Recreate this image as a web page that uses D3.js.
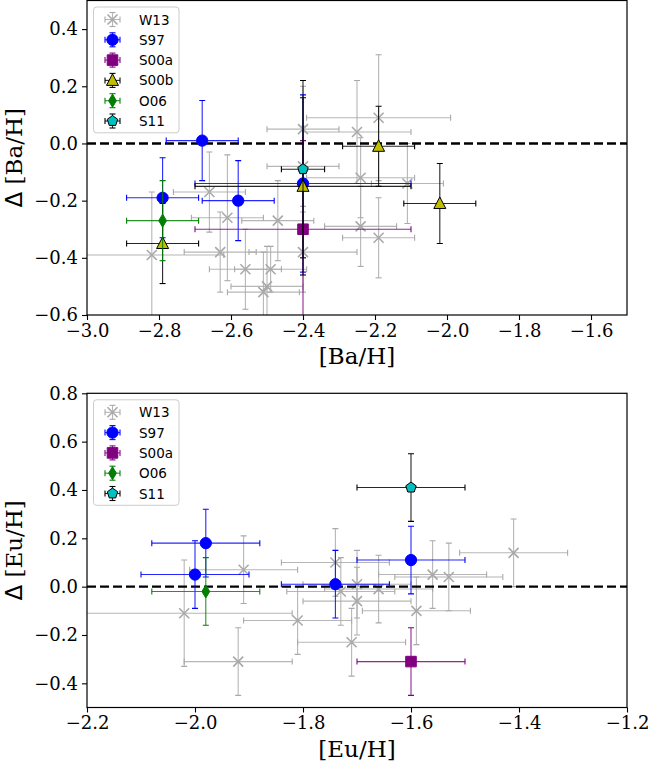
<!DOCTYPE html>
<html>
<head>
<meta charset="utf-8">
<script src="https://cdn.jsdelivr.net/npm/d3@7"></script>
<style>
  body { margin: 0; background: #fff; }
</style>
</head>
<body>
<svg id="chart" width="649" height="764"></svg>
<script>
// each point: [x, y, xerr, yerr]
const baW13 = [
  [-2.82, -0.39, 0.20, 0.22], [-2.66, -0.17, 0.10, 0.14], [-2.61, -0.26, 0.10, 0.22],
  [-2.63, -0.38, 0.10, 0.14], [-2.56, -0.44, 0.10, 0.14], [-2.49, -0.44, 0.10, 0.08],
  [-2.50, -0.50, 0.10, 0.14], [-2.51, -0.52, 0.10, 0.14], [-2.47, -0.27, 0.10, 0.14],
  [-2.40, 0.05, 0.10, 0.15], [-2.40, -0.08, 0.10, 0.14], [-2.40, -0.38, 0.15, 0.14],
  [-2.25, 0.04, 0.15, 0.18], [-2.19, 0.09, 0.20, 0.22], [-2.24, -0.12, 0.15, 0.14],
  [-2.24, -0.29, 0.10, 0.14], [-2.19, -0.33, 0.10, 0.14], [-2.11, -0.14, 0.10, 0.14]
];
const baS97 = [[-2.79, -0.19, 0.10, 0.14], [-2.68, 0.01, 0.10, 0.14], [-2.58, -0.20, 0.10, 0.14], [-2.40, -0.14, 0.30, 0.31]];
const baS00a = [[-2.40, -0.30, 0.30, 0.31]];
const baS00b = [[-2.79, -0.35, 0.10, 0.14], [-2.40, -0.15, 0.30, 0.31], [-2.19, -0.01, 0.10, 0.14], [-2.02, -0.21, 0.10, 0.14]];
const baO06 = [[-2.79, -0.27, 0.10, 0.14]];
const baS11 = [[-2.40, -0.09, 0.06, 0.31]];

const euW13 = [
  [-2.02, -0.11, 0.20, 0.22], [-1.91, 0.07, 0.10, 0.14], [-1.92, -0.31, 0.10, 0.14],
  [-1.81, -0.14, 0.10, 0.14], [-1.74, 0.10, 0.10, 0.14], [-1.73, -0.02, 0.10, 0.14],
  [-1.70, 0.01, 0.10, 0.14], [-1.70, -0.06, 0.10, 0.14], [-1.71, -0.23, 0.10, 0.14],
  [-1.66, -0.01, 0.10, 0.14], [-1.59, -0.10, 0.10, 0.14], [-1.56, 0.05, 0.10, 0.14],
  [-1.53, 0.04, 0.10, 0.14], [-1.41, 0.14, 0.10, 0.14]
];
const euS97 = [[-1.98, 0.18, 0.10, 0.14], [-2.00, 0.05, 0.10, 0.14], [-1.74, 0.01, 0.10, 0.14], [-1.60, 0.11, 0.10, 0.14]];
const euS00a = [[-1.60, -0.31, 0.10, 0.14]];
const euO06 = [[-1.98, -0.02, 0.10, 0.14]];
const euS11 = [[-1.60, 0.41, 0.10, 0.14]];

const baXTicks = [-3.0, -2.8, -2.6, -2.4, -2.2, -2.0, -1.8, -1.6];
const baYTicks = [-0.6, -0.4, -0.2, 0.0, 0.2, 0.4];
const euXTicks = [-2.2, -2.0, -1.8, -1.6, -1.4, -1.2];
const euYTicks = [-0.4, -0.2, 0.0, 0.2, 0.4, 0.6, 0.8];

const styles = {
  W13:  { shape: 'x',        fill: '#a9a9a9', edge: '#a9a9a9', ecolor: '#a9a9a9' },
  S97:  { shape: 'circle',   fill: '#0000ff', edge: '#0000ff', ecolor: '#0000ff' },
  S00a: { shape: 'square',   fill: '#800080', edge: '#800080', ecolor: '#800080' },
  S00b: { shape: 'triangle', fill: '#bfbf00', edge: '#000',    ecolor: '#000' },
  O06:  { shape: 'diamond',  fill: '#008000', edge: '#008000', ecolor: '#008000' },
  S11:  { shape: 'pentagon', fill: '#00bfbf', edge: '#000',    ecolor: '#000' }
};

const serif = "'DejaVu Serif', serif";
const sans = "'DejaVu Sans', sans-serif";

const svg = d3.select('#chart');

function markerPath(shape) {
  if (shape === 'circle') return d3.symbol(d3.symbolCircle, 100)();
  if (shape === 'square') return d3.symbol(d3.symbolSquare, 112)();
  if (shape === 'triangle') return 'M0,-6.5L6,5L-6,5Z';
  if (shape === 'diamond') return 'M0,-6.5L3.9,0L0,6.5L-3.9,0Z';
  if (shape === 'pentagon') {
    const pts = d3.range(5).map(k => {
      const a = -Math.PI / 2 + k * 2 * Math.PI / 5;
      return [5.5 * Math.cos(a), 5.5 * Math.sin(a)];
    });
    return 'M' + pts.join('L') + 'Z';
  }
  return 'M-5,-5L5,5M-5,5L5,-5';
}

function drawMarker(g, st, x, y) {
  const p = g.append('path')
    .attr('d', markerPath(st.shape))
    .attr('transform', `translate(${x},${y})`);
  if (st.shape === 'x') {
    p.attr('fill', 'none').attr('stroke', st.edge).attr('stroke-width', 1.6);
  } else {
    p.attr('fill', st.fill).attr('stroke', st.edge).attr('stroke-width', 1);
  }
}

function drawErr(g, color, x0, x1, y0, y1, cx, cy) {
  const e = g.append('g').attr('stroke', color).attr('stroke-width', 1.1).attr('fill', 'none');
  e.append('line').attr('x1', x0).attr('x2', x1).attr('y1', cy).attr('y2', cy).attr('opacity', 0.85);
  e.append('line').attr('x1', cx).attr('x2', cx).attr('y1', y0).attr('y2', y1).attr('opacity', 0.85);
  [x0, x1].forEach(v => e.append('line').attr('x1', v).attr('x2', v).attr('y1', cy - 3).attr('y2', cy + 3));
  [y0, y1].forEach(v => e.append('line').attr('x1', cx - 3).attr('x2', cx + 3).attr('y1', v).attr('y2', v));
}

function drawPanel(cfg) {
  const x = d3.scaleLinear().domain(cfg.xDomain).range([87, 627]);
  const y = d3.scaleLinear().domain(cfg.yDomain).range([cfg.bottom, cfg.top]);
  const g = svg.append('g');
  const clipId = 'clip-' + cfg.id;

  g.append('clipPath').attr('id', clipId)
    .append('rect').attr('x', 87).attr('y', cfg.top).attr('width', 540).attr('height', cfg.bottom - cfg.top);

  const plot = g.append('g').attr('clip-path', `url(#${clipId})`);

  // W13 first, then zero line, then the rest
  cfg.series.forEach((s, i) => {
    if (i === 1) {
      plot.append('line')
        .attr('x1', 87).attr('x2', 627)
        .attr('y1', y(0)).attr('y2', y(0))
        .attr('stroke', '#000').attr('stroke-width', 2.4)
        .attr('stroke-dasharray', '9,4');
    }
    const st = styles[s.name];
    const sg = plot.append('g');
    s.data.forEach(d => {
      drawErr(sg, st.ecolor, x(d[0] - d[2]), x(d[0] + d[2]), y(d[1] + d[3]), y(d[1] - d[3]), x(d[0]), y(d[1]));
    });
    s.data.forEach(d => drawMarker(sg, st, x(d[0]), y(d[1])));
  });

  const fmt = d3.format('.1f');
  const xAxis = g.append('g')
    .attr('transform', `translate(0,${cfg.bottom})`)
    .call(d3.axisBottom(x).tickValues(cfg.xTicks).tickFormat(fmt).tickSize(5).tickPadding(4));
  const yAxis = g.append('g')
    .attr('transform', 'translate(87,0)')
    .call(d3.axisLeft(y).tickValues(cfg.yTicks).tickFormat(fmt).tickSize(5).tickPadding(4));
  [xAxis, yAxis].forEach(a => {
    a.select('.domain').remove();
    a.selectAll('line').attr('stroke', '#000').attr('stroke-width', 1.1);
    a.selectAll('text').attr('fill', '#000').style('font-family', serif).style('font-size', '18px');
  });

  g.append('rect')
    .attr('x', 87).attr('y', cfg.top).attr('width', 540).attr('height', cfg.bottom - cfg.top)
    .attr('fill', 'none').attr('stroke', '#000').attr('stroke-width', 1.2);

  g.append('text')
    .attr('x', 357).attr('y', cfg.bottom + 49)
    .attr('text-anchor', 'middle')
    .style('font-family', serif).style('font-size', '23px')
    .text(cfg.xLabel);

  const yl = g.append('text')
    .attr('transform', `translate(22,${(cfg.top + cfg.bottom) / 2}) rotate(-90)`)
    .attr('text-anchor', 'middle')
    .style('font-size', '23px');
  yl.append('tspan').style('font-family', sans).text('\u0394');
  yl.append('tspan').style('font-family', serif).text(' ' + cfg.xLabel);

  // legend
  const lg = g.append('g');
  const n = cfg.series.length;
  lg.append('rect')
    .attr('x', 93.5).attr('y', cfg.top + 6.5)
    .attr('width', 85.5).attr('height', 20.3 * n + 4)
    .attr('rx', 3)
    .attr('fill', '#fff').attr('fill-opacity', 0.8)
    .attr('stroke', '#ccc').attr('stroke-width', 1);
  cfg.series.forEach((s, i) => {
    const st = styles[s.name];
    const cy = cfg.top + 19 + i * 20.3;
    const eg = lg.append('g');
    drawErr(eg, st.ecolor, 105, 120, cy - 7, cy + 7, 112.5, cy);
    drawMarker(eg, st, 112.5, cy);
    lg.append('text')
      .attr('x', 139).attr('y', cy + 5)
      .style('font-family', sans).style('font-size', '13.5px')
      .text(s.name);
  });
}

drawPanel({
  id: 'ba', top: 0.5, bottom: 315,
  xDomain: [-3.0, -1.5], yDomain: [-0.6, 0.5],
  xTicks: baXTicks, yTicks: baYTicks, xLabel: '[Ba/H]',
  series: [
    { name: 'W13', data: baW13 }, { name: 'S97', data: baS97 }, { name: 'S00a', data: baS00a },
    { name: 'S00b', data: baS00b }, { name: 'O06', data: baO06 }, { name: 'S11', data: baS11 }
  ]
});

drawPanel({
  id: 'eu', top: 393.3, bottom: 707.5,
  xDomain: [-2.2, -1.2], yDomain: [-0.5, 0.8],
  xTicks: euXTicks, yTicks: euYTicks, xLabel: '[Eu/H]',
  series: [
    { name: 'W13', data: euW13 }, { name: 'S97', data: euS97 }, { name: 'S00a', data: euS00a },
    { name: 'O06', data: euO06 }, { name: 'S11', data: euS11 }
  ]
});
</script>
</body>
</html>
